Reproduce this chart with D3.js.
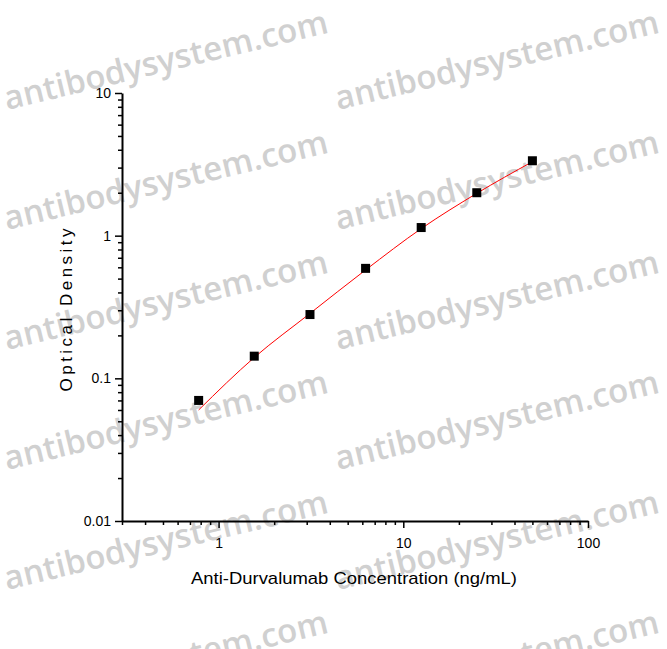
<!doctype html>
<html lang="en">
<head>
  <title>Anti-Durvalumab standard curve</title>
  <script src="https://d3js.org/d3.v7.min.js"></script>
  <style>
    body { margin: 0px; background: #fff; }
    svg { display: block; font-family: "Liberation Sans", Arial, sans-serif; }
  </style>
</head>
<body>
  <div id="container"></div>
  <script>
    // data
    var concentrations = [0.78, 1.56, 3.125, 6.25, 12.5, 25, 50];
    var odValues = [0.070, 0.143, 0.280, 0.590, 1.14, 2.00, 3.35];
    // fitted curve as drawn (values at the standard points)
    var curveOD = [0.060, 0.140, 0.285, 0.575, 1.12, 1.98, 3.30];
    var xTicks = [1, 10, 100];
    var yTicks = [0.01, 0.1, 1, 10];
    var xLabel = "Anti-Durvalumab Concentration (ng/mL)";
    var yLabel = "Optical Density";
    var watermark = "antibodysystem.com";

    var W = 667, H = 649;
    var margin = { top: 93, right: 79, bottom: 128, left: 122 };

    var svg = d3.select('#container').append('svg')
        .attr('width', W)
        .attr('height', H);

    // watermarks behind everything
    var wm = svg.append('g');
    [7, 338].forEach(function(x0) {
        for (var k = 0; k < 6; k++) {
            wm.append('text')
                .attr('transform', 'translate(' + x0 + ',' + (110 + 120 * k) + ') rotate(-13.5)')
                .attr('fill', '#d0d0d0')
                .attr('textLength', 332)
                .attr('lengthAdjust', 'spacing')
                .style('font-family', '"Open Sans", sans-serif')
                .style('font-weight', 600)
                .style('font-size', '33px')
                .text(watermark);
        }
    });

    var x = d3.scaleLog()
        .domain([0.3, 100])
        .range([margin.left, W - margin.right]);
    var y = d3.scaleLog()
        .domain([0.01, 10])
        .range([H - margin.bottom, margin.top]);

    // minor ticks
    var xMinor = [];
    [0.1, 1, 10].forEach(function(d) {
        for (var i = 2; i <= 9; i++) { if (d * i >= 0.3 && d * i < 100) xMinor.push(d * i); }
    });
    var yMinor = [];
    [0.01, 0.1, 1].forEach(function(d) {
        for (var i = 2; i <= 9; i++) yMinor.push(d * i);
    });

    var xAxis = svg.append('g')
        .attr('transform', 'translate(0,' + (H - margin.bottom) + ')');
    xAxis.append('g')
        .call(d3.axisBottom(x).tickValues(xMinor).tickSize(4).tickFormat(''))
        .call(function(g) { g.select('.domain').remove(); });
    xAxis.append('g')
        .call(d3.axisBottom(x).tickValues(xTicks).tickSize(7).tickSizeOuter(0).tickPadding(10)
            .tickFormat(d3.format('~g')));

    var yAxis = svg.append('g')
        .attr('transform', 'translate(' + margin.left + ',0)');
    yAxis.append('g')
        .call(d3.axisLeft(y).tickValues(yMinor).tickSize(4).tickFormat(''))
        .call(function(g) { g.select('.domain').remove(); });
    yAxis.append('g')
        .call(d3.axisLeft(y).tickValues(yTicks).tickSize(7).tickSizeOuter(0).tickPadding(4)
            .tickFormat(d3.format('~g')));

    svg.selectAll('.domain').attr('stroke', '#000').attr('stroke-width', 2);
    svg.selectAll('.tick line').attr('stroke', '#000').attr('stroke-width', 1.5);
    svg.selectAll('.tick text')
        .attr('fill', '#000')
        .style('font-size', '14px')
        .style('font-family', '"Liberation Sans", Arial, sans-serif');

    // fitted curve
    var line = d3.line()
        .x(function(d, i) { return x(concentrations[i]); })
        .y(function(d) { return y(d); })
        .curve(d3.curveMonotoneX);
    svg.append('path')
        .datum(curveOD)
        .attr('d', line)
        .attr('fill', 'none')
        .attr('stroke', '#ff0000')
        .attr('stroke-width', 1);

    // points
    var s = 9;
    svg.append('g').selectAll('rect')
        .data(odValues)
        .enter()
        .append('rect')
        .attr('x', function(d, i) { return x(concentrations[i]) - s / 2; })
        .attr('y', function(d) { return y(d) - s / 2; })
        .attr('width', s)
        .attr('height', s)
        .attr('fill', '#000');

    // axis titles
    svg.append('text')
        .attr('x', 354)
        .attr('y', 584)
        .attr('text-anchor', 'middle')
        .attr('textLength', 326)
        .attr('lengthAdjust', 'spacingAndGlyphs')
        .style('font-size', '17px')
        .text(xLabel);

    svg.append('text')
        .attr('transform', 'translate(72,310) rotate(-90)')
        .attr('text-anchor', 'middle')
        .attr('textLength', 163)
        .attr('lengthAdjust', 'spacing')
        .style('font-size', '17px')
        .text(yLabel);
  </script>
</body>
</html>
